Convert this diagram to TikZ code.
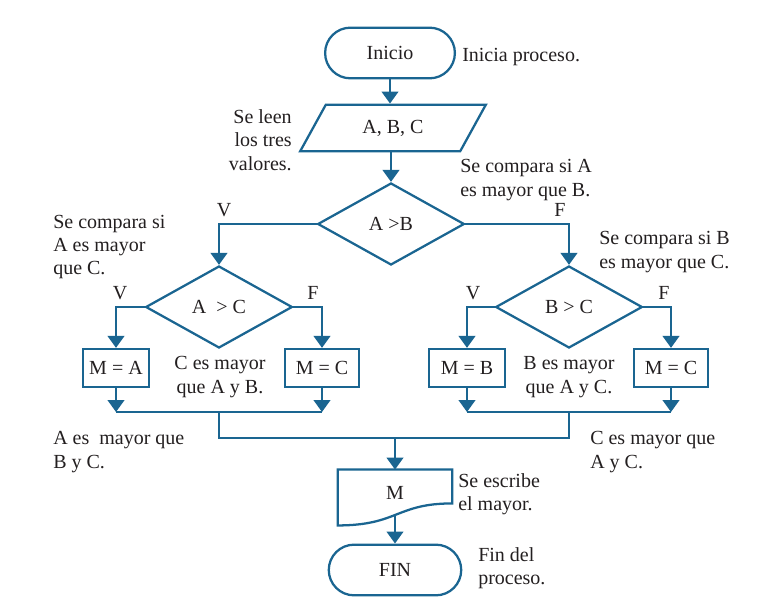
\documentclass[tikz,border=0pt]{standalone}
\usepackage{fontspec}
\setmainfont{Liberation Serif}
\usetikzlibrary{shapes.geometric,shapes.misc,arrows.meta}

\definecolor{flujo}{RGB}{26,101,145}
\definecolor{texto}{RGB}{35,31,32}

\begin{document}
\begin{tikzpicture}[x=0.75pt,y=-0.75pt,
    every node/.style={text=texto, font=\fontsize{15}{17.6}\selectfont},
    linea/.style={draw=flujo, line width=1.7pt},
    flecha/.style={linea, -{Triangle[width=12.5pt,length=9pt]}},
    terminal/.style={linea, rounded rectangle, minimum width=104pt, minimum height=38pt},
    datos/.style={linea, trapezium, trapezium left angle=62, trapezium right angle=118,
        trapezium stretches=true, minimum width=140pt, minimum height=35pt},
    decision/.style={linea, diamond, minimum width=110pt, minimum height=61.5pt, inner sep=0pt},
    proceso/.style={linea, rectangle, minimum width=50pt, minimum height=28.5pt},
    nota/.style={align=left, inner sep=0pt}]

    \useasboundingbox (0,0) rectangle (778,599);

    % Inicio y lectura
    \node[terminal] (inicio) at (390,53) {Inicio};
    \node[datos] (leer) at (393,128) {A, B, C};
    \draw[flecha] (inicio.south) -- (inicio.south |- leer.north);

    % Comparaciones
    \node[decision] (ab) at (391,224) {A >B};
    \node[decision] (ac) at (219,307) {A \ > C};
    \node[decision] (bc) at (569,307) {B > C};
    \draw[flecha] (leer.south -| ab.north) -- (ab.north);
    \draw[flecha] (ab.west) -| (ac.north);
    \draw[flecha] (ab.east) -| (bc.north);
    \node (v1) at (224,210) {V};
    \node (f1) at (560,210) {F};

    % Asignaciones
    \node[proceso] (ma) at (116,368) {M = A};
    \node[proceso, minimum width=56pt] (mc1) at (322,368) {M = C};
    \node[proceso, minimum width=57pt] (mb) at (467,368) {M = B};
    \node[proceso, minimum width=55pt] (mc2) at (671,368) {M = C};
    \draw[flecha] (ac.west) -| (ma.north);
    \draw[flecha] (ac.east) -| (mc1.north);
    \draw[flecha] (bc.west) -| (mb.north);
    \draw[flecha] (bc.east) -| (mc2.north);
    \node (v2) at (120,293) {V};
    \node (f2) at (313,293) {F};
    \node (v3) at (473,293) {V};
    \node (f3) at (664,293) {F};

    % Union
    \coordinate (jl) at (219,412);
    \coordinate (jr) at (569,412);
    \coordinate (jc) at (395,438);
    \draw[flecha] (ma.south) -- (ma.south |- jl);
    \draw[flecha] (mc1.south) -- (mc1.south |- jl);
    \draw[linea] (ma.south |- jl) -- (mc1.south |- jl);
    \draw[flecha] (mb.south) -- (mb.south |- jr);
    \draw[flecha] (mc2.south) -- (mc2.south |- jr);
    \draw[linea] (mb.south |- jr) -- (mc2.south |- jr);
    \draw[linea] (jl) -- (jl |- jc) -- (jr |- jc) -- (jr);

    % Salida y fin
    \node[minimum width=85.5pt, minimum height=34pt, inner sep=0pt] (doc) at (395,492.5) {M};
    \draw[linea] (doc.north west) -- (doc.north east) -- ([yshift=9pt]doc.south east)
        .. controls +(-42pt,0) and +(45pt,0) .. ([yshift=-7.5pt]doc.south west) -- cycle;
    \draw[flecha] (jc) -- (doc.north);
    \node[terminal, minimum width=106pt] (fin) at (395,570) {FIN};
    \draw[flecha] (doc.south) -- (fin.north);

    % Notas
    \node[nota, anchor=west] (nInicio) at (462,57) {Inicia proceso.};
    \node[nota, align=right, anchor=east] (nLeer) at (292,140) {Se leen\\los tres\\valores.};
    \node[nota, anchor=west] (nAB) at (460,180) {Se compara si A\\es mayor que B.};
    \node[nota, anchor=west] (nAC) at (53,247) {Se compara si\\A es mayor\\que C.};
    \node[nota, anchor=west] (nBC) at (599,252) {Se compara si B\\es mayor que C.};
    \node[nota, align=center] (nC) at (220,377) {C es mayor\\que A y B.};
    \node[nota, align=center] (nB) at (569,377) {B es mayor\\que A y C.};
    \node[nota, anchor=west] (nA) at (53,452) {A es\ \ mayor que\\B y C.};
    \node[nota, anchor=west] (nC2) at (590,452) {C es mayor que\\A y C.};
    \node[nota, anchor=west] (nDoc) at (458,494) {Se escribe\\el mayor.};
    \node[nota, anchor=west] (nFin) at (478,568) {Fin del\\proceso.};
\end{tikzpicture}
\end{document}
